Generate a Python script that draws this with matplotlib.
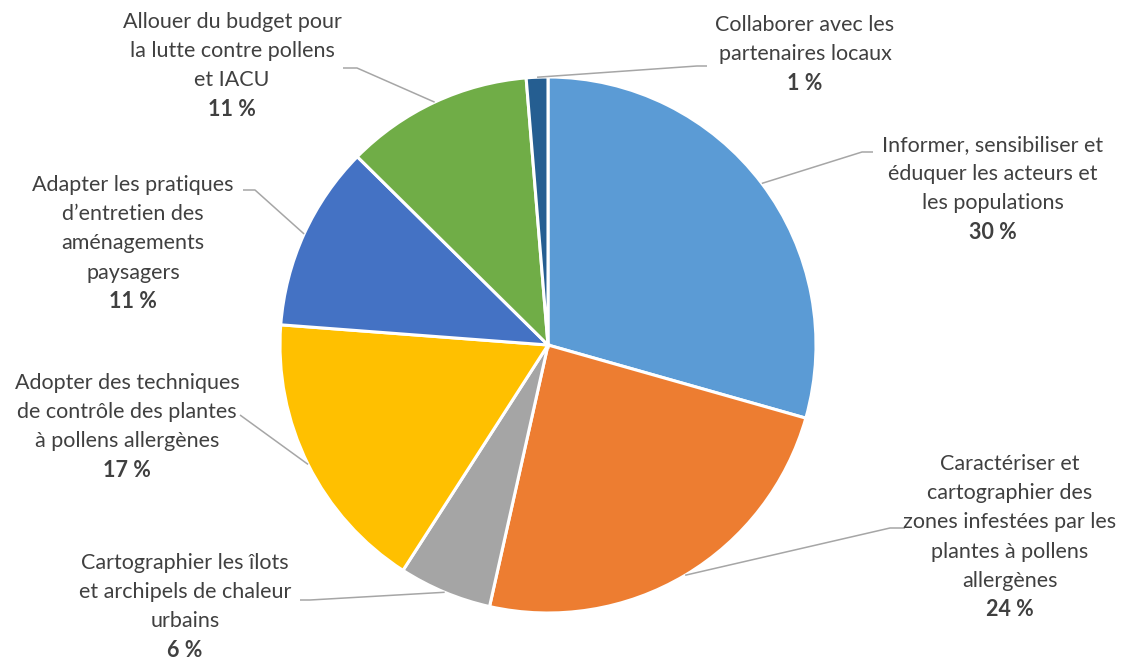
import numpy as np
import matplotlib
matplotlib.use("Agg")
import matplotlib.pyplot as plt

# slice shares (percent), clockwise from 12 o'clock
labels = [
    ["Informer, sensibiliser et", "éduquer les acteurs et", "les populations"],
    ["Caractériser et", "cartographier des", "zones infestées par les", "plantes à pollens", "allergènes"],
    ["Cartographier les îlots", "et archipels de chaleur", "urbains"],
    ["Adopter des techniques", "de contrôle des plantes", "à pollens allergènes"],
    ["Adapter les pratiques", "d\u2019entretien des", "aménagements", "paysagers"],
    ["Allouer du budget pour", "la lutte contre pollens", "et IACU"],
    ["Collaborer avec les", "partenaires locaux"],
]
values = [29.4, 24.1, 5.6, 17.1, 11.2, 11.3, 1.3]
pct_text = ["30 %", "24 %", "6 %", "17 %", "11 %", "11 %", "1 %"]
colors = ["#5B9BD5", "#ED7D31", "#A5A5A5", "#FFC000", "#4472C4", "#70AD47", "#255E91"]

W, H = 1135, 660
fig = plt.figure(figsize=(W / 100, H / 100), dpi=100)
ax = fig.add_axes([0, 0, 1, 1])
ax.set_xlim(0, W)
ax.set_ylim(0, H)
ax.set_aspect("equal")
ax.axis("off")

cx, cy, R = 548, H - 345, 268
wedges, _ = ax.pie(values, colors=colors, startangle=90, counterclock=False,
                   center=(cx, cy), radius=R, frame=True,
                   wedgeprops=dict(edgecolor="white", linewidth=2.2))
ax.set_xlim(0, W)
ax.set_ylim(0, H)
ax.axis("off")

# label layout: text centre x, first line y (image px), elbow and end of leader
text_x = [993, 1010, 185, 127, 133, 232, 805]
text_y = [145, 464, 563, 383, 185, 22, 25]
elbow = [(862, 152), (890, 528), (310, 600), (240, 415), (255, 190), (357, 68), (697, 66)]
lend = [(873, 152), (905, 528), (300, 600), (240, 415), (243, 190), (343, 68), (707, 66)]
pitch = 29.2

txt_col = "#404040"
font = "Lato"

for i, w in enumerate(wedges):
    ang = np.deg2rad((w.theta1 + w.theta2) / 2)
    sx, sy = cx + R * np.cos(ang), cy + R * np.sin(ang)
    ex, ey = elbow[i]
    fx, fy = lend[i]
    ax.plot([sx, ex, fx], [sy, H - ey, H - fy], color="#A6A6A6", lw=1.1,
            solid_capstyle="butt", zorder=1)
    for j, line in enumerate(labels[i]):
        ax.text(text_x[i], H - (text_y[i] + j * pitch), line, ha="center", va="center",
                fontsize=15.5, color=txt_col, family=font)
    ax.text(text_x[i], H - (text_y[i] + len(labels[i]) * pitch), pct_text[i],
            ha="center", va="center", fontsize=15.5, color=txt_col, family=font,
            fontweight="bold")

fig.savefig("out.png", dpi=100)
